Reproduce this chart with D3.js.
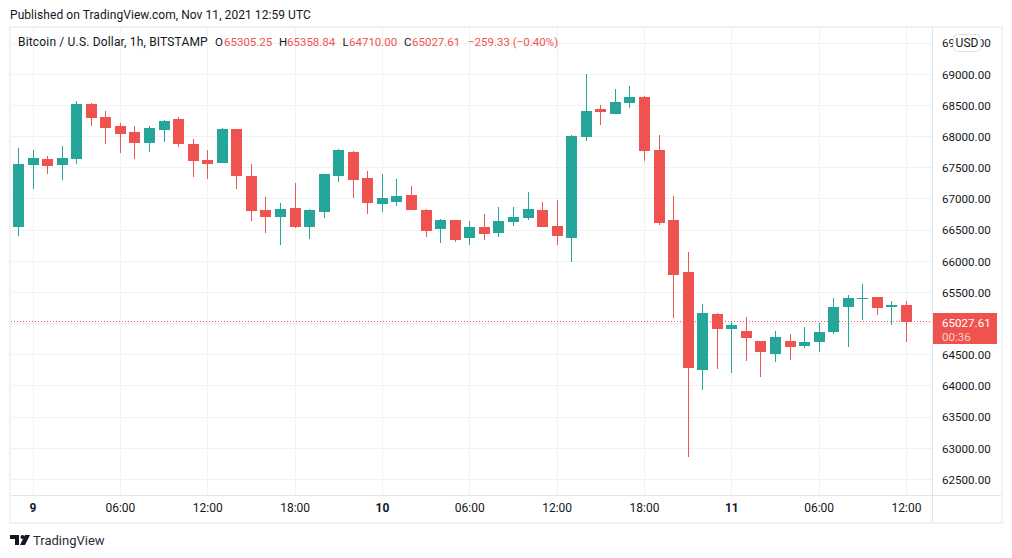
<!DOCTYPE html>
<html>
<head>
<meta charset="utf-8">
<script src="https://cdn.jsdelivr.net/npm/d3@7"></script>
<style>
  html, body { margin: 0; padding: 0; background: #fff; }
  svg { display: block; }
  text { font-family: Roboto, sans-serif; fill: #131722; }
</style>
</head>
<body>
<div id="chart"></div>
<script>
// hourly candles, first one is Nov 8 23:00 UTC
const firstCandle = Date.UTC(2021, 10, 8, 23);
const opens = [66551, 67545, 67641, 67545, 67641, 68524, 68315, 68171, 68075, 67898, 68107, 68283, 67882, 67625, 67577, 68123,
  67369, 66823, 66711, 66855, 66551, 66791, 67369, 67754, 67337, 66920, 66952, 67064, 66823, 66518, 66663, 66374,
  66551, 66454, 66631, 66695, 66823, 66567, 66374, 67994, 68444, 68363, 68540, 68636, 67786, 66663, 65829, 64257,
  65155, 64915, 64882, 64722, 64514, 64722, 64642, 64706, 64866, 65267, 65396, 65428, 65267, 65305.25];
const highs = [67818, 67786, 67690, 67850, 68572, 68540, 68412, 68219, 68171, 68171, 68267, 68315, 67962, 67786, 68139, 68123,
  67561, 67032, 66936, 67256, 66839, 67401, 67802, 67770, 67449, 67401, 67321, 67208, 66839, 66679, 66663, 66647,
  66759, 66871, 66871, 67112, 66952, 66984, 68026, 69005, 68508, 68764, 68812, 68652, 68026, 67048, 66150, 65315,
  65171, 65043, 65107, 64722, 64882, 64834, 64947, 65011, 65412, 65460, 65636, 65428, 65364, 65358.84];
const lows = [66406, 67160, 67401, 67305, 67561, 68171, 67882, 67738, 67641, 67754, 67914, 67834, 67353, 67321, 67577, 67160,
  66647, 66454, 66262, 66535, 66358, 66695, 67273, 67016, 66759, 66791, 66887, 66823, 66390, 66294, 66310, 66262,
  66342, 66390, 66567, 66663, 66551, 66262, 65989, 67930, 68187, 68363, 68460, 67609, 66583, 65091, 62861, 63936,
  64273, 64209, 64401, 64145, 64385, 64417, 64610, 64546, 64834, 64626, 65059, 65139, 64979, 64710];
const closes = [67561, 67657, 67529, 67657, 68524, 68299, 68139, 68043, 67898, 68139, 68251, 67882, 67609, 67561, 68123, 67369,
  66807, 66711, 66839, 66551, 66823, 67401, 67786, 67305, 66936, 67016, 67048, 66823, 66486, 66663, 66342, 66551,
  66438, 66647, 66711, 66839, 66551, 66406, 68010, 68412, 68395, 68556, 68636, 67770, 66615, 65781, 64289, 65171,
  64915, 64979, 64770, 64546, 64786, 64626, 64706, 64866, 65267, 65412, 65412, 65251, 65299, 65027.61];

const priceTicks = [62500, 63000, 63500, 64000, 64500, 65000, 65500, 66000, 66500, 67000, 67500, 68000, 68500, 69000, 69500];
const priceLabels = priceTicks.filter(d => d !== 65000);
const timeTicks = [
  Date.UTC(2021, 10, 9, 0), Date.UTC(2021, 10, 9, 6), Date.UTC(2021, 10, 9, 12), Date.UTC(2021, 10, 9, 18),
  Date.UTC(2021, 10, 10, 0), Date.UTC(2021, 10, 10, 6), Date.UTC(2021, 10, 10, 12), Date.UTC(2021, 10, 10, 18),
  Date.UTC(2021, 10, 11, 0), Date.UTC(2021, 10, 11, 6), Date.UTC(2021, 10, 11, 12)
];
const legendParts = [
  { text: "O", red: false }, { text: "65305.25", red: true },
  { text: "H", red: false }, { text: "65358.84", red: true },
  { text: "L", red: false }, { text: "64710.00", red: true },
  { text: "C", red: false }, { text: "65027.61", red: true },
  { text: "\u2212259.33 (\u22120.40%)", red: true }
];
const lastClose = closes[closes.length - 1];

const width = 1012, height = 558;
const up = "#26a69a", down = "#ef5350", gridColor = "#f1f2f5", borderColor = "#e0e3eb";
const paneRight = 932, paneBottom = 495;
const font = 'Roboto, sans-serif';

const x = d3.scaleUtc()
  .domain([firstCandle, firstCandle + 61 * 3600e3])
  .range([18, 906]);
const y = d3.scaleLinear()
  .domain([69000, 63000])
  .range([74.3, 448.3]);

const svg = d3.select("#chart").append("svg")
  .attr("width", width)
  .attr("height", height);

svg.append("text")
  .attr("x", 10).attr("y", 19)
  .style("font-size", "12px")
  .style("letter-spacing", "0.06px")
  .text("Published on TradingView.com, Nov 11, 2021 12:59 UTC");

// frame
svg.append("rect")
  .attr("x", 10).attr("y", 27)
  .attr("width", 992).attr("height", 496)
  .attr("fill", "#fff")
  .attr("stroke", gridColor)
  .attr("stroke-width", 2);

// grid
svg.append("g").selectAll("rect")
  .data(priceTicks)
  .enter().append("rect")
  .attr("x", 11).attr("y", d => Math.floor(y(d)))
  .attr("width", paneRight - 11).attr("height", 1)
  .attr("fill", gridColor);
svg.append("g").selectAll("rect")
  .data(timeTicks)
  .enter().append("rect")
  .attr("x", d => Math.round(x(d))).attr("y", 28)
  .attr("width", 1).attr("height", paneBottom - 28)
  .attr("fill", gridColor);

// pane borders
svg.append("rect").attr("x", paneRight).attr("y", 28).attr("width", 1).attr("height", 494).attr("fill", borderColor);
svg.append("rect").attr("x", 11).attr("y", paneBottom).attr("width", 990).attr("height", 1).attr("fill", borderColor);

// last price line
svg.append("line")
  .attr("x1", 11).attr("x2", paneRight)
  .attr("y1", Math.floor(y(lastClose)) + 0.5).attr("y2", Math.floor(y(lastClose)) + 0.5)
  .attr("stroke", down)
  .attr("stroke-dasharray", "1 2");

// candles
const candles = d3.range(opens.length);
const candle = svg.append("g").selectAll("g")
  .data(candles)
  .enter().append("g")
  .attr("fill", i => closes[i] >= opens[i] ? up : down);
const cx = i => Math.round(x(firstCandle + i * 3600e3));
candle.append("rect")
  .attr("x", cx).attr("width", 1)
  .attr("y", i => Math.round(y(highs[i])))
  .attr("height", i => Math.round(y(lows[i])) - Math.round(y(highs[i])));
candle.append("rect")
  .attr("x", i => cx(i) - 5).attr("width", 11)
  .attr("y", i => Math.round(y(Math.max(opens[i], closes[i]))))
  .attr("height", i => Math.max(1, Math.round(y(Math.min(opens[i], closes[i]))) - Math.round(y(Math.max(opens[i], closes[i])))));

// price axis
const priceAxis = svg.append("g")
  .attr("transform", `translate(${paneRight},0)`)
  .call(d3.axisRight(y).tickValues(priceLabels).tickSize(0).tickPadding(10).tickFormat(d3.format(".2f")));
priceAxis.select(".domain").remove();
priceAxis.selectAll("text").style("font-family", font).style("font-size", "11.6px").attr("fill", "#131722");

// time axis
const timeAxis = svg.append("g")
  .attr("transform", `translate(0,${paneBottom})`)
  .call(d3.axisBottom(x).tickValues(timeTicks).tickSize(0).tickPadding(8)
    .tickFormat(d => {
      const t = new Date(d);
      return t.getUTCHours() === 0 ? String(t.getUTCDate()) : d3.utcFormat("%H:%M")(t);
    }));
timeAxis.select(".domain").remove();
timeAxis.selectAll("text")
  .style("font-family", font).style("font-size", "12px")
  .style("font-weight", d => new Date(d).getUTCHours() === 0 ? "bold" : "normal");

// last price label
svg.append("rect")
  .attr("x", paneRight + 1).attr("y", 313)
  .attr("width", 64).attr("height", 31)
  .attr("fill", down);
svg.append("text")
  .attr("x", 942).attr("y", 327)
  .style("font-size", "11.6px").style("fill", "#fff")
  .text(d3.format(".2f")(lastClose));
svg.append("text")
  .attr("x", 942).attr("y", 341)
  .style("font-size", "11.6px").style("fill", "#fff").style("fill-opacity", 0.7)
  .text("00:36");

// USD badge
svg.append("rect")
  .attr("x", 953.5).attr("y", 34.5)
  .attr("width", 27).attr("height", 17).attr("rx", 4)
  .attr("fill", "#fff").attr("stroke", borderColor);
svg.append("text")
  .attr("x", 967).attr("y", 47)
  .attr("text-anchor", "middle")
  .style("font-size", "12px")
  .text("USD");

// legend
svg.append("text")
  .attr("x", 18).attr("y", 46)
  .style("font-size", "12px")
  .style("letter-spacing", "0.17px")
  .text("Bitcoin / U.S. Dollar, 1h, BITSTAMP");
const legendX = [215, 224, 279, 287, 342.5, 349, 404, 412, 468];
svg.append("g").selectAll("text")
  .data(legendParts)
  .enter().append("text")
  .attr("x", (d, i) => legendX[i]).attr("y", 46)
  .style("font-size", "11.5px")
  .style("fill", d => d.red ? down : "#131722")
  .text(d => d.text);

// logo + name
const logo = svg.append("g").attr("transform", "translate(10,535)").attr("fill", "#131722");
logo.append("path").attr("d", "M0 0H9V10H5V4H0Z");
logo.append("circle").attr("cx", 12.5).attr("cy", 2).attr("r", 2);
logo.append("path").attr("d", "M15 0H20L15 10H10Z");
svg.append("text")
  .attr("x", 33).attr("y", 545)
  .style("font-size", "13px")
  .style("fill", "#2a2e39")
  .text("TradingView");
</script>
</body>
</html>
